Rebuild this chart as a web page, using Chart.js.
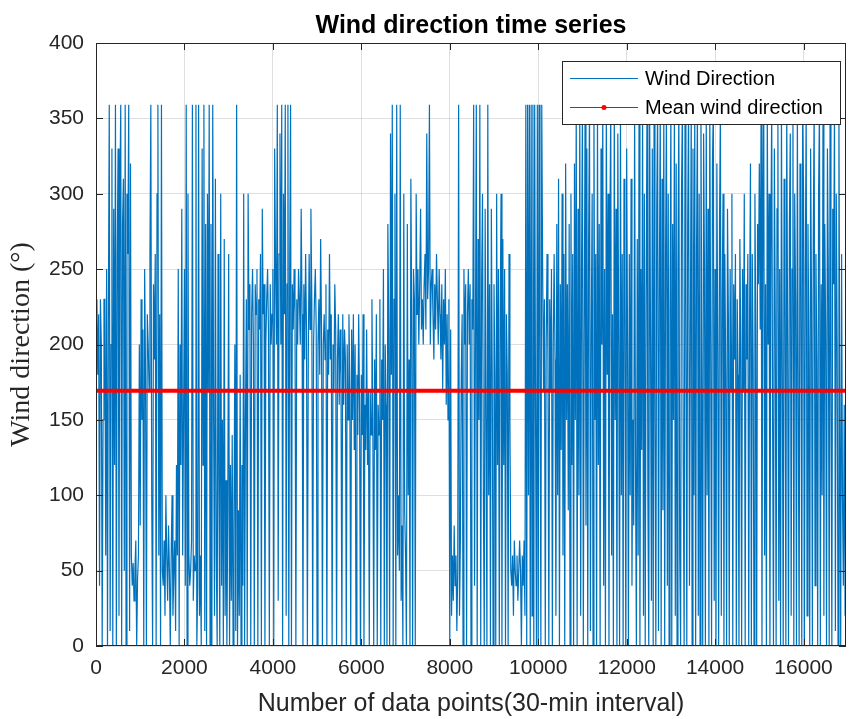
<!DOCTYPE html>
<html>
<head>
<meta charset="utf-8">
<script src="https://cdn.jsdelivr.net/npm/chart.js@4.4.1/dist/chart.umd.min.js"></script>
<style>
  html, body { margin: 0; padding: 0; background: #fff; }
  #wrap { width: 850px; height: 719px; }
</style>
</head>
<body>
<div id="wrap"><canvas id="windChart" width="850" height="719"></canvas></div>
<script>
// wind direction (deg), one value every 20 samples, 1000 samples per array
const sampleStep = 20;
const dir00 = [210, 230, 180, 220, 40, 230, 200, 0, 150, 230, 230, 60, 250, 0, 220, 359, 10, 200, 330, 0,
  290, 120, 359, 0, 260, 330, 20, 300, 359, 0, 280, 310, 50, 359, 0, 300, 260, 359, 10, 320,
  60, 40, 55, 30, 50, 70, 0, 45, 60, 200];
const dir01 = [80, 230, 150, 210, 0, 250, 180, 0, 220, 200, 170, 260, 359, 100, 0, 240, 190, 260, 0, 300,
  359, 60, 220, 0, 359, 50, 40, 70, 20, 100, 60, 30, 80, 50, 0, 60, 100, 20, 50, 70,
  10, 120, 60, 250, 0, 200, 120, 290, 60, 150];
const dir02 = [250, 40, 359, 0, 300, 60, 40, 50, 70, 359, 30, 60, 50, 359, 0, 40, 359, 20, 60, 0,
  330, 120, 359, 10, 280, 0, 300, 170, 359, 0, 280, 0, 359, 150, 20, 310, 60, 0, 260, 100,
  0, 300, 40, 150, 0, 270, 20, 110, 0, 90];
const dir03 = [260, 0, 120, 30, 140, 0, 80, 200, 10, 359, 0, 90, 20, 180, 0, 120, 40, 300, 0, 150,
  230, 0, 300, 210, 240, 0, 220, 250, 200, 0, 240, 220, 250, 0, 230, 210, 260, 0, 290, 220,
  240, 0, 200, 230, 250, 210, 0, 240, 200, 220];
const dir04 = [250, 0, 330, 250, 200, 359, 30, 260, 340, 200, 359, 0, 300, 220, 359, 20, 240, 359, 0, 250,
  359, 0, 240, 210, 250, 220, 0, 230, 200, 250, 230, 200, 290, 220, 0, 240, 190, 260, 210, 0,
  190, 260, 210, 290, 230, 0, 200, 230, 250, 210];
const dir05 = [0, 200, 230, 180, 270, 210, 0, 200, 220, 190, 240, 0, 210, 180, 260, 190, 220, 0, 200, 170,
  240, 210, 0, 190, 220, 160, 210, 180, 0, 220, 160, 210, 190, 0, 200, 150, 220, 170, 0, 210,
  150, 220, 130, 200, 0, 180, 140, 220, 160, 0];
const dir06 = [180, 140, 220, 0, 160, 130, 210, 120, 170, 0, 170, 140, 230, 150, 0, 190, 130, 220, 0, 160,
  140, 230, 0, 190, 150, 250, 0, 200, 160, 0, 280, 210, 0, 340, 180, 359, 0, 230, 300, 0,
  359, 60, 100, 50, 359, 30, 80, 0, 300, 90];
const dir07 = [60, 0, 280, 100, 190, 0, 310, 220, 0, 250, 230, 0, 300, 220, 250, 200, 240, 290, 210, 230,
  200, 240, 260, 210, 340, 230, 250, 359, 200, 240, 250, 220, 190, 240, 210, 260, 230, 200, 250, 220,
  190, 240, 170, 230, 200, 250, 160, 220, 150, 230];
const dir08 = [0, 210, 20, 60, 30, 80, 40, 60, 10, 50, 359, 20, 70, 180, 220, 0, 250, 200, 240, 0,
  220, 250, 200, 240, 0, 230, 210, 359, 40, 200, 359, 0, 270, 150, 359, 0, 240, 300, 100, 0,
  290, 150, 0, 359, 100, 240, 0, 290, 180, 0];
const dir09 = [240, 180, 0, 300, 120, 250, 0, 220, 300, 0, 270, 120, 250, 0, 220, 180, 0, 260, 150, 50,
  40, 60, 20, 70, 50, 40, 60, 30, 50, 70, 50, 0, 60, 40, 70, 20, 359, 0, 359, 100,
  359, 0, 359, 20, 359, 0, 359, 150, 0, 359];
const dir10 = [0, 359, 200, 0, 359, 250, 170, 230, 0, 200, 260, 190, 0, 230, 170, 250, 0, 200, 260, 190,
  20, 280, 100, 310, 0, 240, 130, 300, 60, 260, 0, 320, 150, 240, 90, 280, 0, 300, 120, 260,
  0, 320, 150, 359, 0, 290, 100, 359, 20, 250];
const dir11 = [359, 0, 200, 359, 80, 330, 0, 270, 359, 10, 210, 300, 0, 359, 150, 260, 0, 359, 120, 280,
  0, 330, 200, 359, 40, 250, 0, 359, 180, 300, 0, 270, 359, 60, 220, 0, 359, 150, 290, 0,
  340, 200, 0, 359, 100, 260, 0, 310, 230, 0];
const dir12 = [330, 200, 0, 260, 100, 310, 40, 150, 80, 359, 120, 0, 270, 60, 359, 0, 250, 130, 359, 20,
  300, 0, 230, 359, 100, 0, 359, 200, 30, 330, 0, 359, 150, 0, 290, 359, 10, 240, 359, 0,
  310, 90, 359, 0, 260, 359, 40, 300, 0, 220];
const dir13 = [359, 0, 280, 150, 359, 20, 320, 0, 250, 359, 60, 0, 300, 359, 120, 0, 359, 230, 0, 280,
  359, 40, 200, 359, 0, 330, 100, 359, 0, 260, 359, 20, 300, 0, 359, 180, 0, 340, 250, 0,
  359, 100, 290, 0, 359, 200, 0, 320, 359, 30];
const dir14 = [250, 0, 320, 200, 0, 280, 359, 20, 230, 300, 0, 260, 180, 0, 290, 220, 0, 250, 170, 300,
  0, 240, 190, 260, 0, 230, 180, 0, 270, 200, 0, 250, 170, 300, 0, 240, 190, 260, 0, 220,
  320, 0, 260, 190, 0, 300, 210, 0, 280, 240];
const dir15 = [320, 210, 359, 0, 280, 359, 60, 240, 0, 359, 200, 300, 0, 260, 359, 150, 0, 330, 220, 0,
  290, 359, 30, 250, 0, 359, 180, 0, 310, 240, 0, 359, 200, 0, 280, 340, 20, 250, 359, 0,
  300, 230, 0, 359, 170, 0, 320, 260, 0, 359];
const dir16 = [300, 0, 250, 359, 20, 280, 200, 0, 330, 230, 0, 270, 359, 40, 260, 190, 0, 300, 359, 0,
  240, 100, 359, 20, 280, 210, 0, 330, 250, 0, 359, 180, 0, 290, 240, 359, 10, 300, 200, 0,
  359, 150, 0, 260, 100, 40, 160, 20, 150];

const meanDirection = 169.3;
const xMax = 16960;
const xTickValues = [0, 2000, 4000, 6000, 8000, 10000, 12000, 14000, 16000];
const yTickValues = [0, 50, 100, 150, 200, 250, 300, 350, 400];

const chunks = [dir00, dir01, dir02, dir03, dir04, dir05, dir06, dir07, dir08,
  dir09, dir10, dir11, dir12, dir13, dir14, dir15, dir16];
const windPoints = [];
chunks.forEach((arr, c) => {
  arr.forEach((v, i) => windPoints.push({ x: c * 1000 + i * sampleStep, y: v }));
});
const meanPoints = [{ x: 0, y: meanDirection }, { x: xMax, y: meanDirection }];

const BLUE = '#0072BD';
const AXIS = '#262626';
const SANS = '"Liberation Sans", Arial, sans-serif';

// boxed axes with inward tick marks, like the matlab figure
const frame = {
  id: 'frame',
  afterDatasetsDraw(chart) {
    const { ctx, chartArea: a } = chart;
    const xs = chart.scales.x, ys = chart.scales.y;
    ctx.save();
    ctx.strokeStyle = AXIS;
    ctx.lineWidth = 1;
    ctx.strokeRect(a.left + 0.5, a.top + 0.5, a.right - a.left - 1, a.bottom - a.top - 1);
    ctx.beginPath();
    xTickValues.forEach((v) => {
      const px = Math.round(xs.getPixelForValue(v)) + 0.5;
      ctx.moveTo(px, a.bottom); ctx.lineTo(px, a.bottom - 7);
      ctx.moveTo(px, a.top); ctx.lineTo(px, a.top + 7);
    });
    yTickValues.forEach((v) => {
      const py = Math.round(ys.getPixelForValue(v)) + 0.5;
      ctx.moveTo(a.left, py); ctx.lineTo(a.left + 7, py);
      ctx.moveTo(a.right, py); ctx.lineTo(a.right - 7, py);
    });
    ctx.stroke();
    ctx.restore();
  },
};

// legend box in the top right corner of the plot
const boxLegend = {
  id: 'boxLegend',
  afterDraw(chart) {
    const { ctx, chartArea: a } = chart;
    const w = 278, h = 63;
    const x0 = a.right - 6 - w, y0 = a.top + 18;
    ctx.save();
    ctx.fillStyle = '#fff';
    ctx.fillRect(x0, y0, w, h);
    ctx.strokeStyle = AXIS;
    ctx.lineWidth = 1;
    ctx.strokeRect(x0 + 0.5, y0 + 0.5, w, h);
    const rows = [
      { label: chart.data.datasets[1].label, color: BLUE, dot: false, y: y0 + 17 },
      { label: chart.data.datasets[0].label, color: '#ff0000', dot: true, y: y0 + 46 },
    ];
    ctx.font = '20px ' + SANS;
    ctx.textBaseline = 'middle';
    rows.forEach((r) => {
      ctx.strokeStyle = r.color;
      ctx.lineWidth = 1;
      ctx.beginPath();
      ctx.moveTo(x0 + 8, r.y + 0.5);
      ctx.lineTo(x0 + 76, r.y + 0.5);
      ctx.stroke();
      if (r.dot) {
        ctx.fillStyle = r.color;
        ctx.beginPath();
        ctx.arc(x0 + 42, r.y + 0.5, 2.5, 0, Math.PI * 2);
        ctx.fill();
      }
      ctx.fillStyle = '#000';
      ctx.fillText(r.label, x0 + 83, r.y + 1);
    });
    ctx.restore();
  },
};

new Chart(document.getElementById('windChart'), {
  type: 'line',
  data: {
    datasets: [
      {
        label: 'Mean wind direction',
        data: meanPoints,
        borderColor: '#ff0000',
        borderWidth: 4,
        pointRadius: 0,
        order: 0,
      },
      {
        label: 'Wind Direction',
        data: windPoints,
        borderColor: BLUE,
        borderWidth: 1.2,
        pointRadius: 0,
        tension: 0,
        order: 1,
      },
    ],
  },
  options: {
    responsive: false,
    animation: false,
    devicePixelRatio: 1,
    layout: { padding: { left: 0, right: 4, top: 0, bottom: 0 } },
    plugins: {
      legend: { display: false },
      tooltip: { enabled: false },
      title: {
        display: true,
        fullSize: false,
        text: 'Wind direction time series',
        color: '#000',
        font: { family: SANS, size: 25, weight: 'bold' },
        padding: { top: 11, bottom: 2 },
      },
    },
    scales: {
      x: {
        type: 'linear',
        min: 0,
        max: xMax,
        afterFit: (s) => { s.height = 73; },
        afterBuildTicks: (s) => { s.ticks = xTickValues.map((v) => ({ value: v })); },
        grid: { color: 'rgba(38,38,38,0.15)', drawTicks: false },
        border: { display: false },
        ticks: {
          color: AXIS,
          padding: 10,
          maxRotation: 0,
          callback: (v) => String(v),
          font: { family: SANS, size: 21 },
        },
        title: {
          display: true,
          text: 'Number of data points(30-min interval)',
          color: AXIS,
          font: { family: SANS, size: 25 },
          padding: { top: 0, bottom: 0 },
        },
      },
      y: {
        min: 0,
        max: 400,
        afterFit: (s) => { s.width = 96; },
        afterBuildTicks: (s) => { s.ticks = yTickValues.map((v) => ({ value: v })); },
        grid: { color: 'rgba(38,38,38,0.15)', drawTicks: false },
        border: { display: false },
        ticks: {
          color: AXIS,
          padding: 12,
          callback: (v) => String(v),
          font: { family: SANS, size: 21 },
        },
        title: {
          display: true,
          text: 'Wind direction (°)',
          color: AXIS,
          font: { family: '"Liberation Serif", "Times New Roman", serif', size: 28 },
          padding: { top: 5, bottom: 0 },
        },
      },
    },
  },
  plugins: [frame, boxLegend],
});
</script>
</body>
</html>
